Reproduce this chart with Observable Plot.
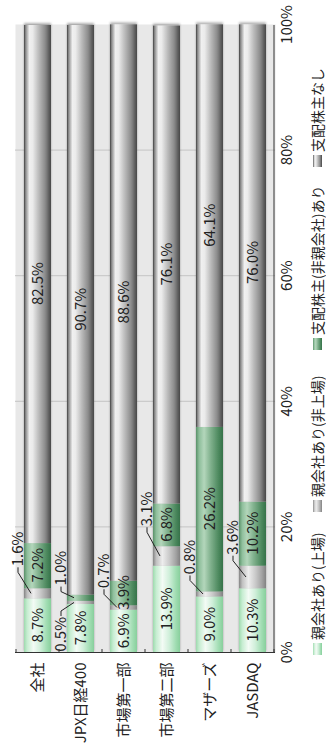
<!DOCTYPE html>
<html><head><meta charset="utf-8">
<script src="https://cdn.jsdelivr.net/npm/d3@7"></script>
<script src="https://cdn.jsdelivr.net/npm/@observablehq/plot@0.6"></script>
<style>
html,body{margin:0;padding:0;background:#fff;overflow:hidden;width:326px;height:747px;}
#wrap{position:absolute;left:0;top:0;width:747px;height:326px;transform-origin:0 0;transform:translate(0,747px) rotate(-90deg);font-family:"Noto Sans CJK JP","Noto Sans",sans-serif;background:#fff;}
#wrap svg{display:block;}
#legend{position:relative;width:747px;height:21px;font-size:14px;color:#222;}
.item{position:absolute;top:2px;display:flex;align-items:center;white-space:nowrap;}
.sw{width:12px;height:9px;margin-right:3px;}
</style></head><body><div id="wrap"></div>
<script>
const categories = ["全社","JPX日経400","市場第一部","市場第二部","マザーズ","JASDAQ"];
const seriesNames = ["親会社あり(上場)","親会社あり(非上場)","支配株主(非親会社)あり","支配株主なし"];
const listedParent = [8.7,7.8,6.9,13.9,9.0,10.3];
const unlistedParent = [1.6,0.5,0.7,3.1,0.8,3.6];
const controllingOther = [7.2,1.0,3.9,6.8,26.2,10.2];
const noControlling = [82.5,90.7,88.6,76.1,64.1,76.0];
const xTicks = [0,20,40,60,80,100];

// labels drawn outside their segment with a leader line
const leaderLabels = [
  {cat:"全社", s:1, side:"after", gap:22},
  {cat:"JPX日経400", s:1, side:"before", gap:13},
  {cat:"JPX日経400", s:2, side:"after", gap:9},
  {cat:"市場第一部", s:1, side:"after", gap:17},
  {cat:"市場第二部", s:1, side:"after", gap:20},
  {cat:"マザーズ", s:1, side:"after", gap:17},
  {cat:"JASDAQ", s:1, side:"after", gap:11}
];

const gradients = [
  [[0,"#9edaae"],[0.12,"#c6edd1"],[0.35,"#f3fbf5"],[0.6,"#d0efda"],[0.85,"#9fdcb1"],[1,"#88cf9c"]],
  [[0,"#858585"],[0.12,"#c0c0c0"],[0.35,"#ededed"],[0.6,"#cbcbcb"],[0.85,"#a2a2a2"],[1,"#828282"]],
  [[0,"#5a9169"],[0.12,"#8fbf9c"],[0.3,"#b3d6bb"],[0.55,"#7fb08c"],[0.85,"#4a875c"],[1,"#37724a"]],
  [[0,"#3f3f3f"],[0.06,"#8a8a8a"],[0.2,"#f0f0f0"],[0.32,"#ebebeb"],[0.55,"#bababa"],[0.78,"#8c8c8c"],[0.9,"#666666"],[1,"#484848"]]
];

const FONT = '"Noto Sans CJK JP","Noto Sans",sans-serif';
const seriesValues = [listedParent, unlistedParent, controllingOther, noControlling];
const rows = [];
categories.forEach((c, i) => {
  let acc = 0;
  seriesValues.forEach((arr, j) => {
    const v = arr[i];
    rows.push({cat: c, series: seriesNames[j], s: j, value: v, x1: acc, x2: acc + v});
    acc += v;
  });
});
const isLeader = d => leaderLabels.some(l => l.cat === d.cat && l.s === d.s);
const inside = rows.filter(d => !isLeader(d));
const fmt = v => v.toFixed(1) + "%";

const plot = Plot.plot({
  width: 747, height: 305,
  marginLeft: 94, marginRight: 25, marginTop: 15, marginBottom: 30,
  style: {fontFamily: FONT, fontSize: "15px", color: "#222", background: "transparent"},
  x: {domain: [0, 100], ticks: xTicks, tickFormat: d => d + "%", tickSize: 0, tickPadding: 6, label: null},
  y: {domain: categories, paddingInner: 0.377, paddingOuter: 0.1885, tickSize: 0, tickPadding: 10, label: null},
  color: {domain: seriesNames, range: seriesNames.map((_, i) => `url(#grad${i})`)},
  marks: [
    Plot.frame({fill: "#e8e8e8", stroke: null}),
    Plot.ruleX(xTicks.filter(t => t > 0 && t < 100), {stroke: "#c4c4c4", strokeWidth: 1}),
    Plot.barX(rows, {x1: "x1", x2: "x2", y: "cat", fill: "series"}),
    Plot.text(inside, {x: d => (d.x1 + d.x2) / 2, y: "cat", text: d => fmt(d.value), fill: "#222", fontSize: 15}),
    Plot.ruleX([0], {stroke: "#333", strokeWidth: 1})
  ]
});

const svg = d3.select(plot);
const defs = svg.insert("defs", ":first-child");
gradients.forEach((stops, i) => {
  const g = defs.append("linearGradient").attr("id", `grad${i}`).attr("x1", 0).attr("y1", 0).attr("x2", 0).attr("y2", 1);
  stops.forEach(([o, c]) => g.append("stop").attr("offset", o).attr("stop-color", c));
});
const f = defs.append("filter").attr("id", "shadow").attr("x", "-10%").attr("y", "-10%").attr("width", "130%").attr("height", "130%");
f.append("feDropShadow").attr("dx", 2).attr("dy", 0).attr("stdDeviation", 1.2).attr("flood-color", "#000").attr("flood-opacity", 0.3);
svg.selectAll('g[aria-label="bar"]').attr("filter", "url(#shadow)");

const xs = plot.scale("x"), ys = plot.scale("y");
const X = v => xs.apply(v);
const bw = ys.bandwidth;
const starts = categories.map(c => ys.apply(c));
const step = starts[1] - starts[0];
const halfGap = (step - bw) / 2;
const over = svg.append("g");
// bottom axis line
const yBottom = starts[starts.length - 1] + bw + halfGap;
over.append("line").attr("x1", X(0)).attr("x2", X(100)).attr("y1", yBottom).attr("y2", yBottom).attr("stroke", "#333");
// category boundary ticks (inward)
const bounds = [starts[0] - halfGap, ...starts.map(s => s + bw + halfGap)];
bounds.forEach(b => over.append("line").attr("x1", X(0)).attr("x2", X(0) + 4).attr("y1", b).attr("y2", b).attr("stroke", "#333"));

// leader labels
leaderLabels.forEach(l => {
  const d = rows.find(r => r.cat === l.cat && r.s === l.s);
  const yt = ys.apply(l.cat);
  const yl = yt - halfGap + 2;
  const xc = X((d.x1 + d.x2) / 2);
  let path, xt, anchor;
  if (l.side === "after") {
    xt = X(d.x2) + l.gap;
    anchor = "start";
    path = `M${xc},${yt + 7}L${xt - 6},${yl}L${xt - 1},${yl}`;
  } else {
    xt = X(d.x1) - l.gap;
    anchor = "end";
    path = `M${xc},${yt + 7}L${xt + 6},${yl}L${xt + 1},${yl}`;
  }
  over.append("path").attr("d", path).attr("fill", "none").attr("stroke", "#222").attr("stroke-width", 1);
  over.append("text").attr("x", xt).attr("y", yl).attr("dy", "0.35em").attr("text-anchor", anchor)
    .attr("font-size", 15).attr("fill", "#222").text(fmt(d.value));
});

const wrap = document.getElementById("wrap");
wrap.appendChild(plot);

// legend below
const legend = d3.select(wrap).append("div").attr("id", "legend");
const legendPos = [92, 235, 397, 580];
seriesNames.forEach((name, i) => {
  const it = legend.append("div").attr("class", "item").style("left", legendPos[i] + "px");
  const css = "linear-gradient(to bottom," + gradients[i].map(([o, c]) => `${c} ${o * 100}%`).join(",") + ")";
  it.append("div").attr("class", "sw").style("background", css);
  it.append("span").text(name);
});
</script></body></html>
